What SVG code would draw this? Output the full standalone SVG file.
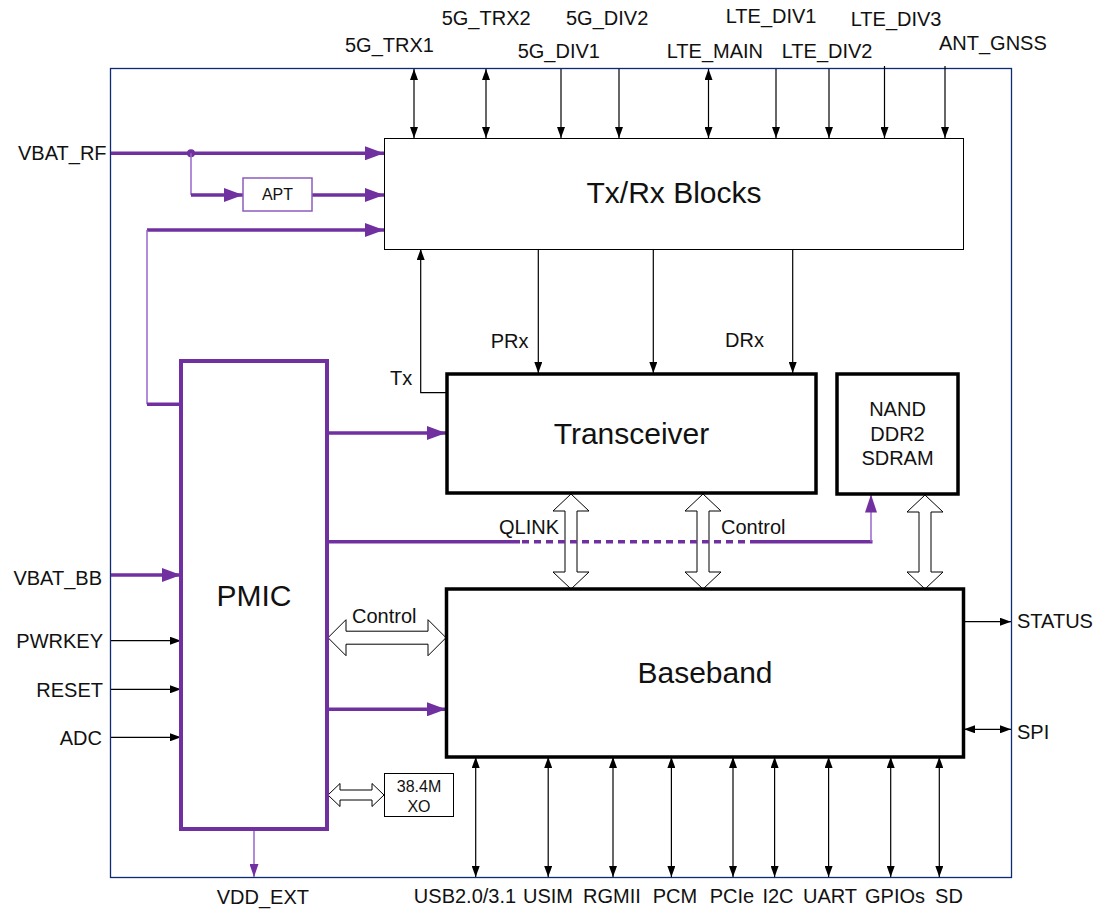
<svg xmlns="http://www.w3.org/2000/svg" width="1102" height="912" viewBox="0 0 1102 912">
<style>
text{font-family:"Liberation Sans",Arial,sans-serif;fill:#111;}
.l{font-size:20px;}
.big{font-size:30px;}
.thin{stroke:#000;stroke-width:1.2;fill:none;}
.pt{stroke:#7030A0;stroke-width:3.5;fill:none;}
.pl{stroke:#9966CC;stroke-width:1.5;fill:none;}
.hb{fill:#fff;stroke:#000;stroke-width:1;}
</style>
<defs>
<marker id="ab" viewBox="0 0 11 8" refX="11" refY="4" markerWidth="11" markerHeight="8" markerUnits="userSpaceOnUse" orient="auto-start-reverse"><path d="M0,0L11,4L0,8z" fill="#000"/></marker>
<marker id="ap" viewBox="0 0 19 14" refX="19" refY="7" markerWidth="19" markerHeight="14" markerUnits="userSpaceOnUse" orient="auto"><path d="M0,0L19,7L0,14z" fill="#7030A0"/></marker>
<marker id="aps" viewBox="0 0 18 12" refX="18" refY="6" markerWidth="18" markerHeight="12" markerUnits="userSpaceOnUse" orient="auto"><path d="M0,0L18,6L0,12z" fill="#7030A0"/></marker>
<marker id="apv" viewBox="0 0 13 9" refX="13" refY="4.5" markerWidth="13" markerHeight="9" markerUnits="userSpaceOnUse" orient="auto"><path d="M0,0L13,4.5L0,9z" fill="#7030A0"/></marker>
</defs>
<rect width="1102" height="912" fill="#fff"/>
<g id="frame"><rect x="110.5" y="68.5" width="901" height="809" fill="none" stroke="#0E2A75" stroke-width="1.3"/></g>

<g id="connectors">
<!-- hollow double arrows -->
<polygon class="hb" points="571,494 589,511 577,511 577,572 589,572 571,589 553,572 565,572 565,511 553,511"/>
<polygon class="hb" points="703,494 721,511 709,511 709,572 721,572 703,589 685,572 697,572 697,511 685,511"/>
<polygon class="hb" points="925,495 943,512 931,512 931,572 943,572 925,589 907,572 919,572 919,512 907,512"/>
<polygon class="hb" points="328,637.7 346,619.7 346,631.2 428,631.2 428,619.7 446,637.7 428,655.7 428,644.2 346,644.2 346,655.7"/>
<polygon class="hb" points="328,795 340,783.5 340,790 372,790 372,783.5 384,795 372,806.5 372,800 340,800 340,806.5"/>
<!-- antennas -->
<line class="thin" x1="414" y1="69" x2="414" y2="138" marker-start="url(#ab)" marker-end="url(#ab)"/>
<line class="thin" x1="486" y1="69" x2="486" y2="138" marker-start="url(#ab)" marker-end="url(#ab)"/>
<line class="thin" x1="561" y1="69" x2="561" y2="138" marker-end="url(#ab)"/>
<line class="thin" x1="619" y1="69" x2="619" y2="138" marker-end="url(#ab)"/>
<line class="thin" x1="708.5" y1="69" x2="708.5" y2="138" marker-start="url(#ab)" marker-end="url(#ab)"/>
<line class="thin" x1="776" y1="69" x2="776" y2="138" marker-end="url(#ab)"/>
<line class="thin" x1="829" y1="69" x2="829" y2="138" marker-end="url(#ab)"/>
<line class="thin" x1="884.5" y1="66" x2="884.5" y2="138" marker-end="url(#ab)"/>
<line class="thin" x1="945" y1="66" x2="945" y2="138" marker-end="url(#ab)"/>
<!-- Tx/Rx to transceiver -->
<polyline class="thin" points="447,392.7 420.7,392.7 420.7,249" marker-end="url(#ab)"/>
<line class="thin" x1="538.3" y1="249" x2="538.3" y2="373" marker-end="url(#ab)"/>
<line class="thin" x1="653.3" y1="249" x2="653.3" y2="373" marker-end="url(#ab)"/>
<line class="thin" x1="792.7" y1="249" x2="792.7" y2="373" marker-end="url(#ab)"/>
<!-- bottom interfaces -->
<line class="thin" x1="475.7" y1="757" x2="475.7" y2="877" marker-start="url(#ab)" marker-end="url(#ab)"/>
<line class="thin" x1="548.2" y1="757" x2="548.2" y2="877" marker-start="url(#ab)" marker-end="url(#ab)"/>
<line class="thin" x1="613" y1="757" x2="613" y2="877" marker-start="url(#ab)" marker-end="url(#ab)"/>
<line class="thin" x1="671.4" y1="757" x2="671.4" y2="877" marker-start="url(#ab)" marker-end="url(#ab)"/>
<line class="thin" x1="733" y1="757" x2="733" y2="877" marker-start="url(#ab)" marker-end="url(#ab)"/>
<line class="thin" x1="774.6" y1="757" x2="774.6" y2="877" marker-start="url(#ab)" marker-end="url(#ab)"/>
<line class="thin" x1="828.6" y1="757" x2="828.6" y2="877" marker-start="url(#ab)" marker-end="url(#ab)"/>
<line class="thin" x1="890.7" y1="757" x2="890.7" y2="877" marker-start="url(#ab)" marker-end="url(#ab)"/>
<line class="thin" x1="939.3" y1="757" x2="939.3" y2="877" marker-start="url(#ab)" marker-end="url(#ab)"/>
<!-- right -->
<line class="thin" x1="964" y1="621.7" x2="1011" y2="621.7" marker-end="url(#ab)"/>
<line class="thin" x1="964" y1="729.3" x2="1011" y2="729.3" marker-start="url(#ab)" marker-end="url(#ab)"/>
<!-- left inputs -->
<line class="thin" x1="111" y1="640.7" x2="181" y2="640.7" marker-end="url(#ab)"/>
<line class="thin" x1="111" y1="689.3" x2="181" y2="689.3" marker-end="url(#ab)"/>
<line class="thin" x1="111" y1="737.3" x2="181" y2="737.3" marker-end="url(#ab)"/>
<!-- power -->
<line class="pt" x1="111" y1="153.3" x2="384" y2="153.3" marker-end="url(#ap)"/>
<circle cx="191" cy="153.3" r="4" fill="#7030A0"/>
<line class="pl" x1="191" y1="153.3" x2="191" y2="195"/>
<line class="pt" x1="191" y1="195" x2="243" y2="195" marker-end="url(#ap)"/>
<line class="pt" x1="312" y1="195" x2="384" y2="195" marker-end="url(#ap)"/>
<line class="pt" x1="147" y1="230" x2="384" y2="230" marker-end="url(#ap)"/>
<line class="pl" x1="147" y1="230" x2="147" y2="404.3"/>
<line class="pt" x1="147" y1="404.3" x2="181" y2="404.3"/>
<line class="pt" x1="111" y1="575" x2="181" y2="575" marker-end="url(#ap)"/>
<line class="pt" x1="327" y1="433" x2="446" y2="433" marker-end="url(#ap)"/>
<line class="pt" x1="327" y1="709.3" x2="446" y2="709.3" marker-end="url(#ap)"/>
<line class="pt" x1="327" y1="541.7" x2="520" y2="541.7"/>
<line class="pt" x1="522" y1="541.7" x2="748" y2="541.7" stroke-dasharray="7 5"/>
<line class="pt" x1="750" y1="541.7" x2="872.5" y2="541.7"/>
<line class="pl" x1="871" y1="541.7" x2="871" y2="494.5" marker-end="url(#aps)"/>
<line class="pl" x1="254" y1="829" x2="254" y2="877" marker-end="url(#apv)"/>
</g>

<g id="txrx"><rect x="384.5" y="138.5" width="579" height="111" fill="#fff" stroke="#000" stroke-width="1"/><text class="big" x="674" y="203" text-anchor="middle">Tx/Rx Blocks</text></g>
<g id="apt"><rect x="243" y="178" width="69" height="33" fill="#fff" stroke="#8C5CC0" stroke-width="1.5"/><text x="277.5" y="200" font-size="16" text-anchor="middle">APT</text></g>
<g id="pmic"><rect x="181" y="361" width="146" height="468" fill="none" stroke="#7030A0" stroke-width="4"/><text class="big" x="254" y="606" text-anchor="middle">PMIC</text></g>
<g id="transceiver"><rect x="447" y="374" width="369" height="119" fill="#fff" stroke="#000" stroke-width="3.5"/><text class="big" x="631.5" y="444" text-anchor="middle">Transceiver</text></g>
<g id="memory"><rect x="837" y="374" width="121" height="120" fill="#fff" stroke="#000" stroke-width="3.5"/><text class="l" x="897.5" y="416" text-anchor="middle">NAND</text><text class="l" x="897.5" y="441" text-anchor="middle">DDR2</text><text class="l" x="897.5" y="465" text-anchor="middle">SDRAM</text></g>
<g id="baseband"><rect x="446.5" y="589" width="517" height="168" fill="#fff" stroke="#000" stroke-width="3.5"/><text class="big" x="705" y="683" text-anchor="middle">Baseband</text></g>
<g id="xo"><rect x="384.5" y="773.5" width="69" height="43" fill="#fff" stroke="#000" stroke-width="1"/><text x="419" y="791.5" font-size="16" text-anchor="middle">38.4M</text><text x="419" y="811.5" font-size="16" text-anchor="middle">XO</text></g>

<g id="labels" class="l">
<text class="l" x="345" y="52">5G_TRX1</text>
<text class="l" x="441.7" y="25">5G_TRX2</text>
<text class="l" x="517.7" y="58">5G_DIV1</text>
<text class="l" x="566" y="25">5G_DIV2</text>
<text class="l" x="666.7" y="58">LTE_MAIN</text>
<text class="l" x="725.7" y="23">LTE_DIV1</text>
<text class="l" x="781.7" y="58">LTE_DIV2</text>
<text class="l" x="850.7" y="26">LTE_DIV3</text>
<text class="l" x="939" y="50">ANT_GNSS</text>
<text class="l" x="18" y="160">VBAT_RF</text>
<text class="l" x="390" y="385">Tx</text>
<text class="l" x="490.7" y="348">PRx</text>
<text class="l" x="725" y="347">DRx</text>
<text class="l" x="499" y="534">QLINK</text>
<text class="l" x="721" y="534">Control</text>
<text class="l" x="352" y="623">Control</text>
<text class="l" x="102" y="585" text-anchor="end">VBAT_BB</text>
<text class="l" x="103" y="648" text-anchor="end">PWRKEY</text>
<text class="l" x="103" y="697" text-anchor="end">RESET</text>
<text class="l" x="102" y="745" text-anchor="end">ADC</text>
<text class="l" x="1017" y="628">STATUS</text>
<text class="l" x="1017" y="739">SPI</text>
<text class="l" x="216.7" y="904">VDD_EXT</text>
<text class="l" x="465" y="903" text-anchor="middle">USB2.0/3.1</text>
<text class="l" x="548" y="903" text-anchor="middle">USIM</text>
<text class="l" x="612" y="903" text-anchor="middle">RGMII</text>
<text class="l" x="675" y="903" text-anchor="middle">PCM</text>
<text class="l" x="732" y="903" text-anchor="middle">PCIe</text>
<text class="l" x="778" y="903" text-anchor="middle">I2C</text>
<text class="l" x="830" y="903" text-anchor="middle">UART</text>
<text class="l" x="895" y="903" text-anchor="middle">GPIOs</text>
<text class="l" x="949" y="903" text-anchor="middle">SD</text>
</g>
</svg>
